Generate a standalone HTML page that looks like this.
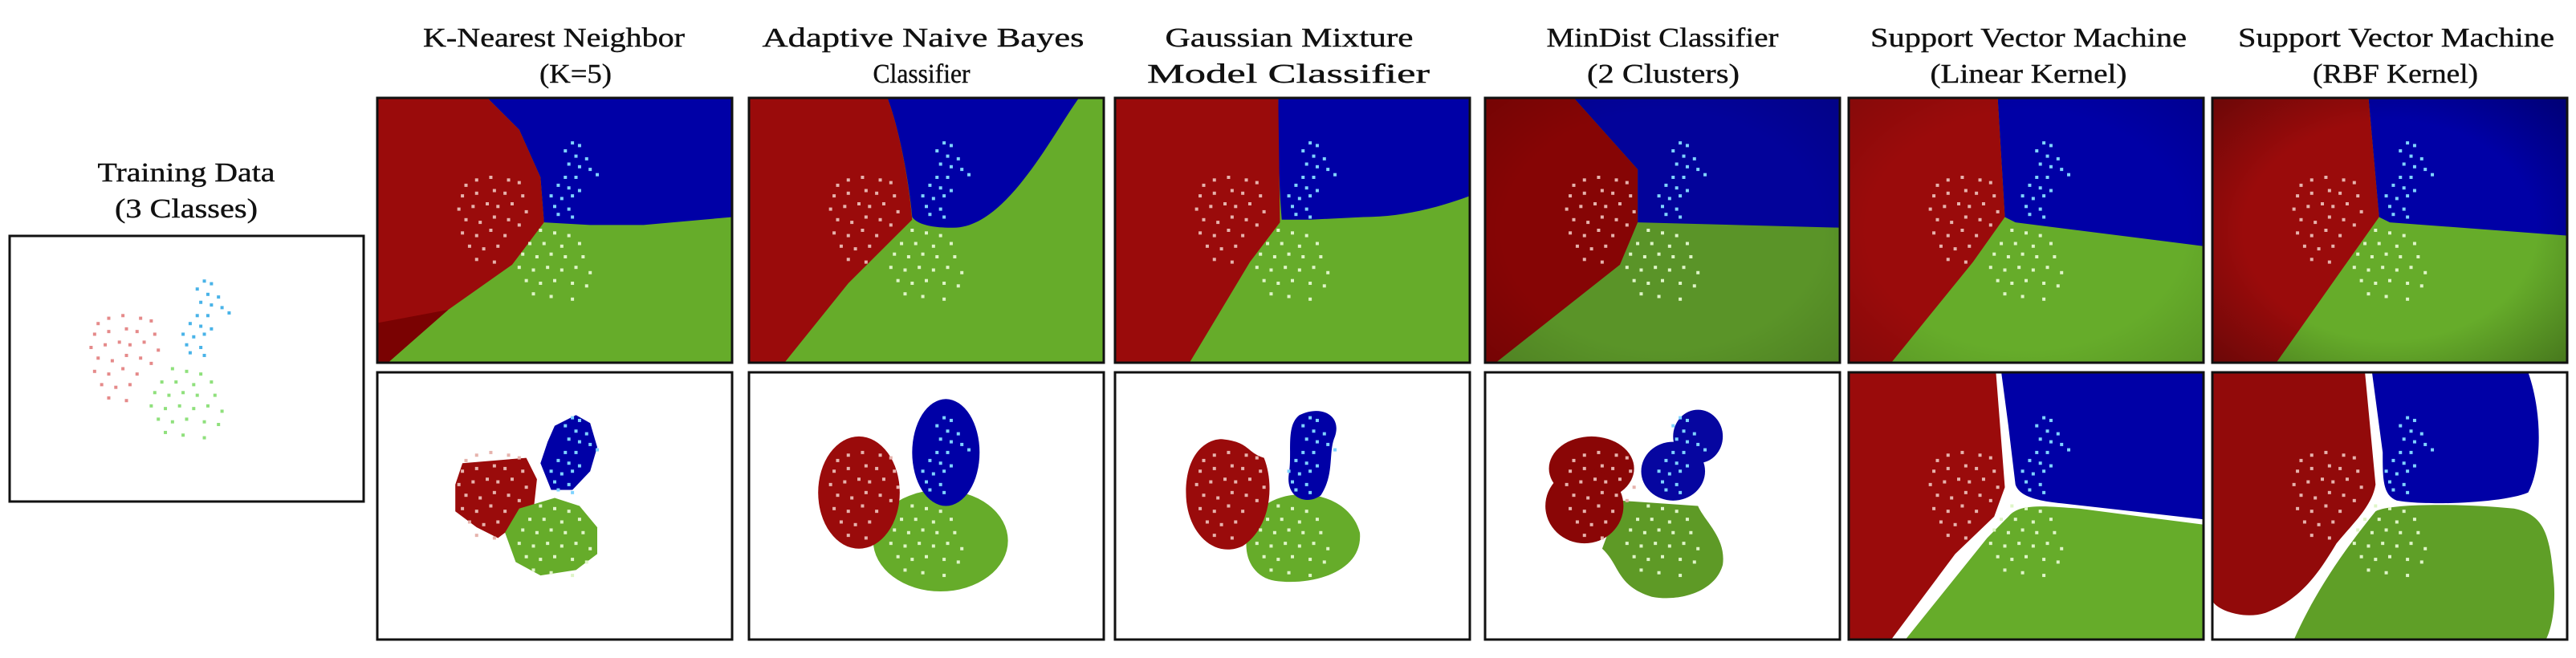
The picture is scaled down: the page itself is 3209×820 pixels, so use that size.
<!DOCTYPE html>
<html><head><meta charset="utf-8"><style>
html,body{margin:0;padding:0;background:#fff;}
svg{display:block;}
text{font-family:"Liberation Serif",serif;fill:#111;}
</style></head><body>
<svg id="fig" width="3209" height="820" viewBox="0 0 3209 820" xmlns="http://www.w3.org/2000/svg">
<defs>
<radialGradient id="shadeDark" cx="0.5" cy="0.5" r="0.75"><stop offset="0.55" stop-color="#000" stop-opacity="0"/><stop offset="1" stop-color="#000" stop-opacity="0.35"/></radialGradient>
<radialGradient id="shadeLight" cx="0.5" cy="0.5" r="0.75"><stop offset="0.6" stop-color="#000" stop-opacity="0"/><stop offset="1" stop-color="#000" stop-opacity="0.15"/></radialGradient>
</defs>
<g id="titles" style="font-weight:500" stroke="#111" stroke-width="0.4">
<text x="232" y="226" text-anchor="middle" font-size="34" textLength="221" lengthAdjust="spacingAndGlyphs">Training Data</text>
<text x="232" y="271" text-anchor="middle" font-size="34" textLength="178" lengthAdjust="spacingAndGlyphs">(3 Classes)</text>
<text x="690" y="58" text-anchor="middle" font-size="34" textLength="326" lengthAdjust="spacingAndGlyphs">K-Nearest Neighbor</text>
<text x="717" y="103" text-anchor="middle" font-size="34" textLength="90" lengthAdjust="spacingAndGlyphs">(K=5)</text>
<text x="1150" y="58" text-anchor="middle" font-size="34" textLength="401" lengthAdjust="spacingAndGlyphs">Adaptive Naive Bayes</text>
<text x="1148" y="103" text-anchor="middle" font-size="34" textLength="121" lengthAdjust="spacingAndGlyphs">Classifier</text>
<text x="1606" y="58" text-anchor="middle" font-size="34" textLength="309" lengthAdjust="spacingAndGlyphs">Gaussian Mixture</text>
<text x="1605" y="103" text-anchor="middle" font-size="34" textLength="352" lengthAdjust="spacingAndGlyphs">Model Classifier</text>
<text x="2071" y="58" text-anchor="middle" font-size="34" textLength="289" lengthAdjust="spacingAndGlyphs">MinDist Classifier</text>
<text x="2072" y="103" text-anchor="middle" font-size="34" textLength="190" lengthAdjust="spacingAndGlyphs">(2 Clusters)</text>
<text x="2527" y="58" text-anchor="middle" font-size="34" textLength="394" lengthAdjust="spacingAndGlyphs">Support Vector Machine</text>
<text x="2527" y="103" text-anchor="middle" font-size="34" textLength="245" lengthAdjust="spacingAndGlyphs">(Linear Kernel)</text>
<text x="2985" y="58" text-anchor="middle" font-size="34" textLength="394" lengthAdjust="spacingAndGlyphs">Support Vector Machine</text>
<text x="2984" y="103" text-anchor="middle" font-size="34" textLength="206" lengthAdjust="spacingAndGlyphs">(RBF Kernel)</text>
</g>
<g id="panels"></g>
</svg>
<script>
// training data (relative coordinates within panel)
const redPts = [[0.25,0.33],[0.28,0.31],[0.32,0.30],[0.37,0.31],[0.40,0.32],[0.24,0.37],[0.28,0.36],[0.33,0.35],[0.36,0.36],[0.41,0.37],[0.23,0.42],[0.27,0.41],[0.31,0.40],[0.34,0.41],[0.38,0.40],[0.42,0.43],[0.25,0.46],[0.29,0.47],[0.33,0.45],[0.37,0.46],[0.40,0.48],[0.24,0.51],[0.28,0.52],[0.32,0.50],[0.36,0.52],[0.26,0.56],[0.30,0.57],[0.34,0.56],[0.28,0.61],[0.33,0.62]];
const bluePts = [[0.55,0.17],[0.57,0.18],[0.53,0.20],[0.56,0.22],[0.59,0.23],[0.54,0.25],[0.57,0.26],[0.60,0.27],[0.62,0.29],[0.53,0.30],[0.56,0.30],[0.51,0.33],[0.54,0.34],[0.57,0.35],[0.49,0.37],[0.52,0.38],[0.55,0.37],[0.50,0.41],[0.54,0.42],[0.51,0.44],[0.55,0.45]];
const greenPts = [[0.46,0.50],[0.50,0.51],[0.54,0.52],[0.43,0.55],[0.47,0.55],[0.52,0.56],[0.57,0.55],[0.41,0.59],[0.45,0.60],[0.49,0.59],[0.53,0.60],[0.58,0.60],[0.40,0.64],[0.44,0.65],[0.48,0.64],[0.52,0.65],[0.56,0.64],[0.60,0.66],[0.42,0.69],[0.46,0.70],[0.50,0.69],[0.55,0.70],[0.59,0.71],[0.44,0.74],[0.49,0.75],[0.55,0.76]];

const NS = "http://www.w3.org/2000/svg";
const root = document.getElementById('panels');
const R = "#9a0b0b", B = "#0000a6", G = "#66ac2a";
const Rd = "#7a0202", Bd = "#03039a", Gd = "#5a9428";

function mk(tag, attrs, parent){ const e=document.createElementNS(NS,tag); for(const k in attrs) e.setAttribute(k,attrs[k]); parent.appendChild(e); return e; }

function panel(name, x, y, w, h, draw, dotColors){
  const g = mk('g',{transform:`translate(${x},${y})`}, root);
  
  
  const cid = 'clip-'+name;
  const cp = mk('clipPath',{id:cid}, g); mk('rect',{x:0,y:0,width:w,height:h}, cp);
  const inner = mk('g',{'clip-path':`url(#${cid})`}, g);
  mk('rect',{x:0,y:0,width:w,height:h,fill:'#fff'}, inner);
  const sx = v=>v*w, sy = v=>v*h;
  const poly = (pts, fill, nm)=>{ const p=mk('path',{d:'M'+pts.map(q=>sx(q[0]).toFixed(1)+','+sy(q[1]).toFixed(1)).join('L')+'Z',fill:fill},inner);
    
     return p; };
  const ell = (cx,cy,rx,ry,fill,nm)=>{ const p=mk('ellipse',{cx:sx(cx),cy:sy(cy),rx:sx(rx),ry:sy(ry),fill:fill},inner);
    
     return p; };
  const pathD = (d, fill, nm)=>{ const dd=d.replace(/(-?[\d.]+),(-?[\d.]+)/g,(m,a,b)=>sx(+a).toFixed(1)+','+sy(+b).toFixed(1));
    const p=mk('path',{d:dd,fill:fill},inner);
    
     return p; };
  draw({poly,ell,pathD,inner,w,h});
  const sets=[[redPts,dotColors[0],'red'],[bluePts,dotColors[1],'blue'],[greenPts,dotColors[2],'green']];
  sets.forEach(([pts,c,cls])=>pts.forEach(p=>{
    const d=mk('rect',{x:sx(p[0])-2,y:sy(p[1])-2,width:4,height:4,fill:c},inner);
    
    
  }));
  const b=mk('rect',{x:0,y:0,width:w,height:h,fill:'none',stroke:'#111','stroke-width':3},g);
  
  
}
const onColor=['#e6b3ad','#7fd3ff','#dff5c8'];
const TY=122, TH=330, BY=464, BH=333, PW=442;
const X=[470,933,1389,1850,2303,2756];

panel('training-data-plot',12,294,441,331,()=>{},['#e58a8a','#49b3e8','#8fe07c']);

// KNN
panel('knn-top',X[0],TY,PW,TH,({poly})=>{
  poly([[0,0],[1,0],[1,1],[0,1]],G,'green-region');
  poly([[0.31,0],[1,0],[1,0.45],[0.75,0.48],[0.6,0.48],[0.47,0.47],[0.46,0.3],[0.4,0.12]],B,'blue-region');
  poly([[0,0],[0.31,0],[0.4,0.12],[0.46,0.3],[0.47,0.47],[0.38,0.63],[0.2,0.8],[0.03,1],[0,1]],R,'red-region');
  poly([[0,0.85],[0.2,0.8],[0.03,1],[0,1]],Rd,'red-dark');
},onColor);
panel('knn-bottom',X[0],BY,PW,BH,({pathD})=>{
  pathD('M0.24,0.34 L0.42,0.32 L0.45,0.4 L0.44,0.52 L0.38,0.58 L0.34,0.62 L0.28,0.58 L0.22,0.52 L0.22,0.42Z',R,'red-blob');
  pathD('M0.50,0.2 L0.56,0.16 L0.6,0.19 L0.62,0.28 L0.6,0.37 L0.55,0.44 L0.49,0.44 L0.46,0.34 L0.48,0.26Z',B,'blue-blob');
  pathD('M0.40,0.51 L0.50,0.47 L0.57,0.5 L0.62,0.58 L0.62,0.68 L0.56,0.74 L0.46,0.76 L0.39,0.71 L0.36,0.6Z',G,'green-blob');
},onColor);

// Adaptive Naive Bayes
panel('adaptive-bayes-top',X[1],TY,PW,TH,({pathD})=>{
  pathD('M0,0 L1,0 L1,1 L0,1Z',G,'green-region');
  pathD('M0.39,0 L0.93,0 C0.85,0.15 0.72,0.5 0.57,0.49 C0.5,0.49 0.47,0.47 0.46,0.45 C0.45,0.3 0.42,0.1 0.39,0Z',B,'blue-region');
  pathD('M0,0 L0.39,0 C0.42,0.1 0.45,0.3 0.46,0.46 L0.28,0.7 L0.1,1 L0,1Z',R,'red-region');
},onColor);
panel('adaptive-bayes-bottom',X[1],BY,PW,BH,({ell})=>{
  ell(0.54,0.63,0.19,0.19,G,'green-blob');
  ell(0.31,0.45,0.115,0.21,R,'red-blob');
  ell(0.555,0.30,0.095,0.2,B,'blue-blob');
},onColor);

// GMM
panel('gmm-top',X[2],TY,PW,TH,({pathD})=>{
  pathD('M0,0 L1,0 L1,1 L0,1Z',G,'green-region');
  pathD('M0.46,0 L1,0 L1,0.37 C0.9,0.42 0.8,0.45 0.7,0.45 L0.55,0.46 L0.47,0.46 C0.46,0.3 0.46,0.1 0.46,0Z',B,'blue-region');
  pathD('M0,0 L0.46,0 L0.465,0.47 L0.38,0.62 L0.21,1 L0,1Z',R,'red-region');
},onColor);
panel('gmm-bottom',X[2],BY,PW,BH,({ell,pathD})=>{
  pathD('M0.42,0.5 C0.5,0.42 0.66,0.45 0.69,0.6 C0.7,0.75 0.55,0.8 0.45,0.78 C0.36,0.76 0.34,0.6 0.42,0.5Z',G,'green-blob');
  pathD('M0.3,0.25 C0.38,0.26 0.37,0.3 0.42,0.32 C0.45,0.42 0.44,0.58 0.36,0.65 C0.28,0.7 0.2,0.6 0.2,0.45 C0.2,0.3 0.26,0.25 0.3,0.25Z',R,'red-blob');
  pathD('M0.52,0.16 C0.58,0.12 0.64,0.16 0.62,0.24 C0.6,0.3 0.62,0.38 0.58,0.46 C0.54,0.5 0.48,0.47 0.49,0.38 C0.5,0.3 0.48,0.2 0.52,0.16Z',B,'blue-blob');
},onColor);

// MinDist
panel('mindist-top',X[3],TY,PW,TH,({poly,inner,w,h})=>{
  poly([[0,0],[1,0],[1,1],[0,1]],Gd,'green-region');
  poly([[0.25,0],[1,0],[1,0.49],[0.43,0.47],[0.43,0.27]],Bd,'blue-region');
  poly([[0,0],[0.25,0],[0.43,0.27],[0.43,0.47],[0.38,0.63],[0.03,1],[0,1]],"#860505",'red-region');
  mk('rect',{x:0,y:0,width:w,height:h,fill:'url(#shadeLight)'},inner);
},onColor);
panel('mindist-bottom',X[3],BY,PW,BH,({ell,pathD})=>{
  pathD('M0.38,0.48 L0.6,0.5 C0.62,0.56 0.68,0.62 0.67,0.72 C0.65,0.82 0.55,0.86 0.47,0.84 C0.37,0.8 0.38,0.72 0.33,0.66Z','#5e9a26','green-blob');
  ell(0.3,0.36,0.12,0.12,"#8a0606",'red-blob-upper');
  ell(0.28,0.5,0.11,0.14,"#8a0606",'red-blob-lower');
  ell(0.6,0.24,0.07,0.1,"#0606a0",'blue-blob-upper');
  ell(0.53,0.37,0.09,0.11,"#0606a0",'blue-blob-lower');
},onColor);

// SVM Linear
panel('svm-linear-top',X[4],TY,PW,TH,({poly,inner,w,h})=>{
  poly([[0,0],[1,0],[1,1],[0,1]],G,'green-region');
  poly([[0.42,0],[1,0],[1,0.56],[0.47,0.47],[0.44,0.45]],B,'blue-region');
  poly([[0,0],[0.42,0],[0.44,0.45],[0.35,0.62],[0.12,1],[0,1]],R,'red-region');
  mk('rect',{x:0,y:0,width:w,height:h,fill:'url(#shadeLight)'},inner);
},onColor);
panel('svm-linear-bottom',X[4],BY,PW,BH,({pathD})=>{
  pathD('M0.45,0.54 C0.48,0.49 0.55,0.5 0.65,0.51 L1,0.57 L1,1 L0.16,1 L0.39,0.62Z',G,'green-region');
  pathD('M0.43,0 L1,0 L1,0.55 L0.6,0.49 C0.52,0.48 0.48,0.46 0.47,0.42 L0.45,0.2Z',B,'blue-region');
  pathD('M0,0 L0.415,0 L0.44,0.43 L0.41,0.54 L0.3,0.68 L0.12,1 L0,1Z',R,'red-region');
},onColor);

// SVM RBF
panel('svm-rbf-top',X[5],TY,PW,TH,({poly,inner,w,h})=>{
  poly([[0,0],[1,0],[1,1],[0,1]],G,'green-region');
  poly([[0.44,0],[1,0],[1,0.52],[0.8,0.5],[0.5,0.47],[0.47,0.45]],B,'blue-region');
  poly([[0,0],[0.44,0],[0.47,0.45],[0.38,0.62],[0.18,1],[0,1]],R,'red-region');
  mk('rect',{x:0,y:0,width:w,height:h,fill:'url(#shadeDark)'},inner);
},onColor);
panel('svm-rbf-bottom',X[5],BY,PW,BH,({pathD})=>{
  pathD('M0.46,0.52 C0.5,0.49 0.7,0.49 0.85,0.51 C0.93,0.53 0.95,0.6 0.96,0.75 C0.97,0.85 0.96,0.95 0.94,1 L0.23,1 C0.28,0.85 0.35,0.7 0.46,0.52Z',"#5f9f27",'green-region');
  pathD('M0.45,0 L0.89,0 C0.93,0.15 0.93,0.35 0.89,0.45 C0.82,0.49 0.6,0.5 0.52,0.48 C0.48,0.46 0.48,0.4 0.48,0.3 Z',B,'blue-region');
  pathD('M0,0 L0.43,0 L0.46,0.42 C0.45,0.5 0.4,0.56 0.35,0.64 C0.3,0.75 0.25,0.85 0.15,0.9 C0.08,0.93 0,0.88 0,0.85Z',"#920a0a",'red-region');
},onColor);
</script>
</body></html>
